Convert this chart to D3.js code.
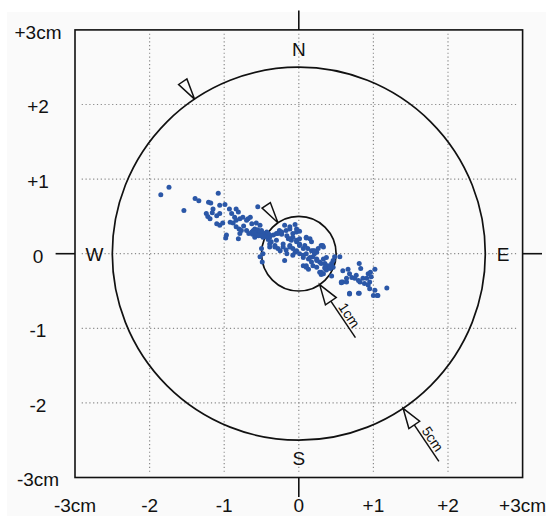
<!DOCTYPE html>
<html>
<head>
<meta charset="utf-8">
<script src="https://cdn.jsdelivr.net/npm/d3@7"></script>
<style>
  body { margin: 0; background: #fff; }
  svg { display: block; font-family: "Liberation Sans", Arial, sans-serif; }
</style>
</head>
<body>
<div id="chart"></div>
<script>
// displacement of every point in cm (east / north)
var eastCm = [-1.85,-1.74,-1.54,-1.39,-1.34,-1.21,-1.18,-1.08,-1.15,-1.16,-1.06,-0.99,-1.24,-1.22,-1.19,-1.10,-1.06,-0.93,-0.90,-0.84,
  -0.81,-1.10,-1.06,-1.02,-0.92,-0.88,-0.97,-0.98,-0.86,-0.84,-0.79,-0.75,-0.70,-0.84,-0.80,-0.77,-0.74,-0.79,-0.81,-0.68,
  -0.65,-0.70,-0.67,-0.61,-0.59,-0.57,-0.55,-0.52,-0.50,-0.63,-0.57,-0.52,-0.55,-0.59,-0.46,-0.43,-0.48,-0.39,-0.41,-0.34,
  -0.30,-0.26,-0.23,-0.50,-0.48,-0.52,-0.49,-0.39,-0.37,-0.32,-0.28,-0.17,-0.12,-0.05,-0.03,0.01,-0.14,-0.10,-0.08,-0.03,
  -0.21,-0.17,-0.12,-0.08,-0.05,0.01,0.06,0.08,0.10,0.15,0.01,0.06,0.10,0.13,0.19,0.24,0.26,0.33,0.30,0.06,
  0.13,0.10,0.19,0.24,0.28,0.33,0.35,0.19,0.24,0.28,0.30,0.37,0.39,0.42,0.44,0.46,0.46,0.48,0.55,0.44,
  0.59,0.66,0.68,0.64,0.59,0.57,0.71,0.75,0.81,0.83,0.77,0.80,0.82,0.86,0.88,0.91,0.93,0.96,1.02,0.97,
  0.95,0.93,0.95,1.02,0.68,0.80,1.00,1.06,1.18,
  -0.28,-0.23,-0.16,-0.12,-0.08,-0.03,0.01,0.12,0.17,0.21,0.24,0.17,0.30,0.35,0.06,-0.03,-0.12,-0.21,-0.30,-0.39,
  -0.46,-0.52,-0.59,-0.63,-0.39,-0.32,-0.25,-0.16,-0.08,-0.19,0.01,-0.03,-0.12,-0.19,0.10,0.17,0.37,0.33,0.10,0.21,
  0.15,0.32,0.42,0.35,0.30,0.57,0.64,0.68,0.81,1.05,-0.62,-0.60,-0.57,-0.54,-0.50,-0.45,-0.43,-0.41];
var northCm = [0.79,0.89,0.58,0.74,0.71,0.69,0.68,0.81,0.60,0.55,0.65,0.66,0.54,0.50,0.47,0.51,0.54,0.60,0.54,0.60,
  0.56,0.40,0.38,0.41,0.42,0.41,0.25,0.21,0.49,0.45,0.47,0.49,0.45,0.36,0.33,0.31,0.37,0.27,0.20,0.47,
  0.49,0.31,0.27,0.31,0.33,0.30,0.32,0.27,0.31,0.40,0.41,0.38,0.63,0.22,0.27,0.29,0.22,0.25,0.19,0.25,
  0.27,0.31,0.26,0.07,0.00,-0.04,-0.11,0.09,0.16,0.11,0.07,0.31,0.33,0.39,0.29,0.30,0.20,0.18,0.22,0.18,
  0.09,0.05,0.11,0.07,0.02,0.11,0.07,0.11,0.21,0.20,0.00,-0.02,0.00,-0.07,0.04,0.02,0.07,0.09,0.11,-0.16,
  -0.21,-0.16,-0.04,-0.09,-0.11,-0.07,-0.13,-0.16,-0.18,-0.25,-0.28,-0.22,-0.16,-0.20,-0.13,-0.18,-0.09,-0.04,-0.04,-0.30,
  -0.23,-0.21,-0.27,-0.33,-0.38,-0.39,-0.32,-0.33,-0.13,-0.20,-0.29,-0.36,-0.38,-0.33,-0.40,-0.33,-0.27,-0.25,-0.21,-0.31,
  -0.38,-0.42,-0.47,-0.49,-0.54,-0.53,-0.56,-0.56,-0.46,
  0.27,0.29,0.24,0.20,0.27,0.16,0.13,0.07,0.04,0.00,-0.07,-0.11,-0.13,-0.18,-0.05,0.04,0.09,0.13,0.18,0.22,
  0.27,0.29,0.31,0.29,0.13,0.09,0.04,0.00,-0.02,-0.09,0.20,0.33,0.36,0.38,0.22,0.16,-0.05,-0.27,-0.18,0.04,
  -0.05,0.11,-0.18,-0.20,-0.25,-0.38,-0.38,-0.53,-0.53,-0.56,0.26,0.28,0.25,0.24,0.24,0.23,0.25,0.27];

var tickValues = [-3, -2, -1, 0, 1, 2, 3];
var tickLabels = ["-3cm", "-2", "-1", "0", "+1", "+2", "+3cm"];
var gridValues = [-2, -1, 0, 1, 2];
var compassLabels = ["N", "E", "S", "W"];
var compassBearings = [0, 90, 180, 270];
var ringDiameters = [1, 5];        // cm
var ringLabels = ["1cm", "5cm"];
var markerBearing = 326;           // open triangles
var arrowBearing = 146;            // labelled arrows

var width = 546, height = 516;
var ink = "#111";

var svg = d3.select("#chart").append("svg")
  .attr("width", width)
  .attr("height", height);

var x = d3.scaleLinear().domain([-3, 3]).range([75, 522.6]);
var y = d3.scaleLinear().domain([-3, 3]).range([477.5, 29.9]);
var unit = x(1) - x(0);

// point at bearing b (deg from north) and radius r (cm)
function polar(b, r) {
  var a = b * Math.PI / 180;
  return [x(r * Math.sin(a)), y(r * Math.cos(a))];
}
// svg rotation that points local +x outward along bearing b
function outAngle(b) {
  var a = b * Math.PI / 180;
  return Math.atan2(-Math.cos(a), Math.sin(a)) * 180 / Math.PI;
}

svg.append("rect")
  .attr("x", 7).attr("y", 12)
  .attr("width", width - 7).attr("height", height - 12)
  .attr("fill", "#fafafa");

// dotted grid
var grid = svg.append("g")
  .attr("stroke", "#8a8a8a")
  .attr("stroke-width", 1.2)
  .attr("stroke-dasharray", "1.2,2.6");
grid.selectAll("line.v").data(gridValues).enter().append("line")
  .attr("class", "v")
  .attr("x1", function(d) { return x(d); }).attr("x2", function(d) { return x(d); })
  .attr("y1", y(2.95)).attr("y2", y(-2.95));
grid.selectAll("line.h").data(gridValues).enter().append("line")
  .attr("class", "h")
  .attr("y1", function(d) { return y(d); }).attr("y2", function(d) { return y(d); })
  .attr("x1", x(-2.91)).attr("x2", x(2.92));

// rings
svg.selectAll("circle.ring").data(ringDiameters).enter().append("circle")
  .attr("class", "ring")
  .attr("cx", x(0)).attr("cy", y(0))
  .attr("r", function(d) { return d / 2 * unit; })
  .attr("fill", "none")
  .attr("stroke", ink)
  .attr("stroke-width", 1.7);

// scatter
var pts = eastCm.map(function(e, i) { return {e: e, n: northCm[i]}; });
svg.selectAll("circle.pt").data(pts).enter().append("circle")
  .attr("class", "pt")
  .attr("cx", function(d) { return x(d.e); })
  .attr("cy", function(d) { return y(d.n); })
  .attr("r", 2.5)
  .attr("fill", "#2b57a7");

// open triangles on each ring
svg.selectAll("g.marker").data(ringDiameters).enter().append("g")
  .attr("class", "marker")
  .attr("transform", function(d) {
    var p = polar(markerBearing, d / 2);
    return "translate(" + p[0] + "," + p[1] + ") rotate(" + outAngle(markerBearing) + ")";
  })
  .append("path")
  .attr("d", "M0,0 L21,-5 L21,5 Z")
  .attr("fill", "#fafafa")
  .attr("stroke", ink)
  .attr("stroke-width", 1.5)
  .attr("stroke-linejoin", "miter");

// labelled arrows
var arrows = svg.selectAll("g.arrow").data(ringDiameters).enter().append("g")
  .attr("class", "arrow")
  .attr("transform", function(d) {
    var p = polar(arrowBearing, d / 2);
    return "translate(" + p[0] + "," + p[1] + ") rotate(" + outAngle(arrowBearing) + ")";
  });
arrows.append("line")
  .attr("x1", 20).attr("x2", 64).attr("y1", 0).attr("y2", 0)
  .attr("stroke", ink).attr("stroke-width", 1.5);
arrows.append("path")
  .attr("d", "M0,0 L20,-6.5 L20,6.5 Z")
  .attr("fill", "#fafafa")
  .attr("stroke", ink)
  .attr("stroke-width", 1.5);
arrows.append("text")
  .attr("x", 42).attr("y", -2.5)
  .attr("text-anchor", "middle")
  .style("font-size", "14px")
  .attr("fill", ink)
  .text(function(d, i) { return ringLabels[i]; });

// frame + compass ticks
svg.append("rect")
  .attr("x", x(-3)).attr("y", y(3))
  .attr("width", x(3) - x(-3)).attr("height", y(-3) - y(3))
  .attr("fill", "none")
  .attr("stroke", ink)
  .attr("stroke-width", 1.6);
svg.selectAll("line.ctick").data(compassBearings).enter().append("line")
  .attr("class", "ctick")
  .attr("x1", function(d) { return polar(d, 3)[0]; })
  .attr("y1", function(d) { return polar(d, 3)[1]; })
  .attr("x2", function(d) { return polar(d, 3.26)[0]; })
  .attr("y2", function(d) { return polar(d, 3.26)[1]; })
  .attr("stroke", ink)
  .attr("stroke-width", 1.6);

svg.selectAll("text.compass").data(compassLabels).enter().append("text")
  .attr("class", "compass")
  .attr("x", function(d, i) { return polar(compassBearings[i], 2.74)[0]; })
  .attr("y", function(d, i) { return polar(compassBearings[i], 2.74)[1]; })
  .attr("dy", "0.36em")
  .attr("text-anchor", "middle")
  .style("font-size", "19px")
  .attr("fill", ink)
  .text(function(d) { return d; });

// tick labels
svg.selectAll("text.ylab").data(tickValues).enter().append("text")
  .attr("class", "ylab")
  .attr("x", 38)
  .attr("y", function(d) { return y(d) + 2; })
  .attr("dy", "0.36em")
  .attr("text-anchor", "middle")
  .style("font-size", "19px")
  .attr("fill", ink)
  .text(function(d, i) { return tickLabels[i]; });
svg.selectAll("text.xlab").data(tickValues).enter().append("text")
  .attr("class", "xlab")
  .attr("x", function(d) { return x(d); })
  .attr("y", 511.5)
  .attr("text-anchor", "middle")
  .style("font-size", "19px")
  .attr("fill", ink)
  .text(function(d, i) { return tickLabels[i]; });
</script>
</body>
</html>
